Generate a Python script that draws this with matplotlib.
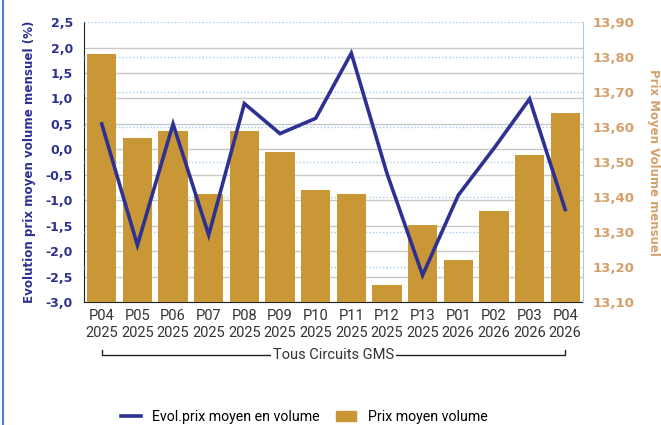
import matplotlib.pyplot as plt
from matplotlib.lines import Line2D
from matplotlib.ticker import FuncFormatter

periods = ["P04", "P05", "P06", "P07", "P08", "P09", "P10", "P11", "P12", "P13", "P01", "P02", "P03", "P04"]
years = ["2025"] * 10 + ["2026"] * 4
evol = [0.50, -1.88, 0.50, -1.68, 0.90, 0.31, 0.61, 1.89, -0.47, -2.47, -0.90, 0.02, 0.99, -1.18]  # left axis (%)
prix = [13.81, 13.57, 13.59, 13.41, 13.59, 13.53, 13.42, 13.41, 13.15, 13.32, 13.22, 13.36, 13.52, 13.64]  # right axis

blue = "#2E3192"
tan = "#D4A06A"
bar_col = "#C99736"
txt_font = ["Roboto", "DejaVu Sans"]
x = list(range(len(periods)))
labels = [p + "\n" + y for p, y in zip(periods, years)]

fig = plt.figure(figsize=(6.61, 4.25), dpi=100)
pos = [0.127, 0.289, 0.755, 0.659]

ax1 = fig.add_axes(pos)  # left axis, grid
ax2 = ax1.twinx()  # right axis, bars
ax3 = fig.add_axes(pos, sharex=ax1, sharey=ax1)  # line on top
ax1.set_zorder(1)
ax2.set_zorder(2)
ax3.set_zorder(3)
ax2.patch.set_visible(False)
ax3.patch.set_visible(False)
ax3.axis("off")

ax1.set_ylim(-3.0, 2.5)
ax1.set_yticks([i * 0.5 - 3.0 for i in range(12)])
ax1.yaxis.set_major_formatter(FuncFormatter(lambda v, p: f"{v:.1f}".replace(".", ",")))
ax1.grid(axis="y", color="#C8C8C8", linewidth=1)
ax1.set_xlim(-0.5, 13.5)
ax1.set_xticks(x)
ax1.set_xticklabels(labels, fontsize=10.5, color="#333333", family=txt_font, linespacing=1.3)
ax1.tick_params(axis="x", length=0, pad=5)
ax1.tick_params(axis="y", length=0, colors=blue, labelsize=9, pad=8)
for t in ax1.get_yticklabels():
    t.set_fontweight("bold")
ax1.yaxis.get_gridlines()[-1].set_visible(False)
ax1.set_ylabel("Evolution prix moyen volume mensuel (%)", color=blue, fontsize=8.6, fontweight="bold", labelpad=7)
for s in ["top", "right"]:
    ax1.spines[s].set_visible(False)
ax1.spines["left"].set_color("#222222")
ax1.spines["bottom"].set_color("#222222")

ax2.bar(x, [p - 13.10 for p in prix], bottom=13.10, width=0.82, color=bar_col, zorder=2)
ax2.set_ylim(13.10, 13.90)
ax2.set_yticks([13.1 + i * 0.1 for i in range(9)])
ax2.yaxis.set_major_formatter(FuncFormatter(lambda v, p: f"{v:.2f}".replace(".", ",")))
ax2.grid(axis="y", color="#A9CBEB", linewidth=1, linestyle=(0, (1, 1.5)))
ax2.set_axisbelow(True)
ax2.tick_params(axis="y", length=0, colors=tan, labelsize=9.5, pad=7)
for t in ax2.get_yticklabels():
    t.set_fontweight("bold")
ax2.set_ylabel("Prix Moyen Volume mensuel", color=tan, fontsize=8.5, fontweight="bold", rotation=270, labelpad=38)
ax2.yaxis.set_label_coords(1.155, 0.5)
for s in ["top", "left", "bottom"]:
    ax2.spines[s].set_visible(False)
ax2.spines["right"].set_color("#A9CBEB")

ax3.plot(x, evol, color=blue, linewidth=2.6, solid_joinstyle="miter")

# category bracket under the labels
bx = ax1.get_xaxis_transform()
yb = -0.19
ax1.plot([0, 0, 13, 13], [yb + 0.02, yb, yb, yb + 0.02], transform=bx, color="#222222", linewidth=1, clip_on=False)
ax1.text(6.5, yb, "Tous Circuits GMS", transform=bx, ha="center", va="center", fontsize=10.5,
         color="#333333", family=txt_font,
         bbox=dict(facecolor="white", edgecolor="none", pad=1.5))

handles = [Line2D([0], [0], color=blue, linewidth=2.6),
           plt.Rectangle((0, 0), 1, 1, color=bar_col)]
fig.legend(handles, ["Evol.prix moyen en volume", "Prix moyen volume"], loc="center", ncol=2,
           bbox_to_anchor=(0.46, 0.018), frameon=False, handlelength=1.4, columnspacing=1.2,
           prop={"family": txt_font, "size": 10.2})

fig.add_artist(Line2D([0.004, 0.004], [0, 1], color="#4A7FC1", linewidth=1.5))

fig.savefig("out.png", dpi=100)
